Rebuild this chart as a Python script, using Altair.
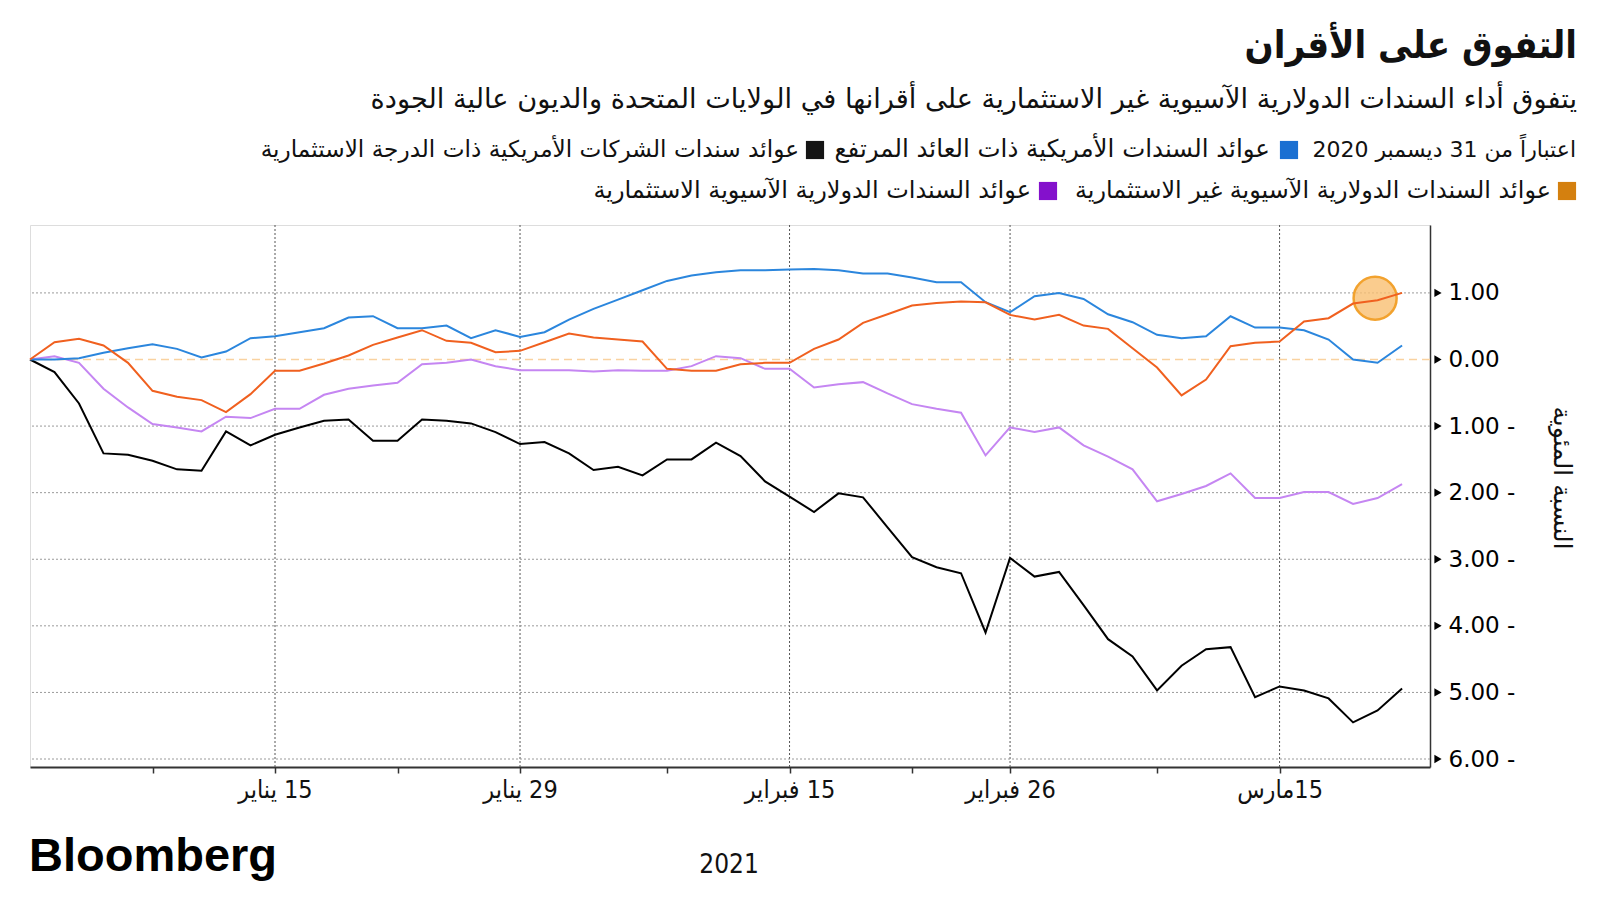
import altair as alt
import pandas as pd

# ---------------- data ----------------
# trading days from 31 Dec 2020 to 22 Mar 2021 (1 Jan holiday excluded)
trade_days = [d for d in pd.bdate_range("2020-12-31", "2021-03-22") if d != pd.Timestamp("2021-01-01")]

us_hy = [0.00, 0.00, 0.02, 0.10, 0.17, 0.23, 0.16, 0.03, 0.12, 0.32,
         0.35, 0.41, 0.47, 0.63, 0.65, 0.47, 0.47, 0.51, 0.32, 0.44,
         0.34, 0.41, 0.60, 0.76, 0.90, 1.04, 1.18, 1.26, 1.31, 1.34,
         1.34, 1.35, 1.36, 1.34, 1.29, 1.29, 1.23, 1.16, 1.16, 0.86,
         0.71, 0.95, 1.00, 0.91, 0.68, 0.56, 0.37, 0.32, 0.35, 0.65,
         0.48, 0.48, 0.44, 0.30, 0.00, -0.05, 0.21]
us_ig = [0.00, -0.19, -0.66, -1.41, -1.43, -1.52, -1.65, -1.67, -1.08, -1.29,
         -1.13, -1.02, -0.92, -0.90, -1.22, -1.22, -0.90, -0.92, -0.96, -1.09,
         -1.27, -1.24, -1.41, -1.66, -1.61, -1.74, -1.50, -1.50, -1.25, -1.45,
         -1.83, -2.06, -2.29, -2.01, -2.07, -2.52, -2.97, -3.12, -3.21, -4.10,
         -2.98, -3.26, -3.19, -3.69, -4.20, -4.46, -4.97, -4.60, -4.35, -4.32,
         -5.07, -4.91, -4.97, -5.09, -5.45, -5.27, -4.94]
asia_hy = [0.00, 0.26, 0.31, 0.21, -0.05, -0.47, -0.56, -0.61, -0.79, -0.52,
           -0.17, -0.17, -0.06, 0.06, 0.22, 0.33, 0.44, 0.28, 0.25, 0.11,
           0.13, 0.26, 0.39, 0.33, 0.30, 0.27, -0.14, -0.17, -0.17, -0.07,
           -0.05, -0.05, 0.16, 0.30, 0.55, 0.68, 0.81, 0.85, 0.87, 0.86,
           0.67, 0.60, 0.67, 0.51, 0.46, 0.17, -0.12, -0.54, -0.30, 0.20,
           0.25, 0.27, 0.57, 0.62, 0.84, 0.89, 1.00]
asia_ig = [0.00, 0.05, -0.05, -0.44, -0.72, -0.97, -1.02, -1.08, -0.86, -0.88,
           -0.74, -0.74, -0.53, -0.44, -0.39, -0.35, -0.07, -0.05, 0.00, -0.10,
           -0.16, -0.16, -0.16, -0.18, -0.16, -0.17, -0.17, -0.10, 0.05, 0.02,
           -0.14, -0.14, -0.42, -0.37, -0.34, -0.51, -0.67, -0.74, -0.80, -1.44,
           -1.02, -1.09, -1.02, -1.29, -1.46, -1.65, -2.13, -2.02, -1.90, -1.71,
           -2.08, -2.08, -1.99, -1.99, -2.17, -2.08, -1.87]

series_names = ["asia_ig", "us_ig", "us_hy", "asia_hy"]
line_colors = ["#c586f2", "#000000", "#2b86dd", "#f0601f"]

tick_dates = ["2021-01-08", "2021-01-15", "2021-01-22", "2021-01-29", "2021-02-08",
              "2021-02-15", "2021-02-22", "2021-02-26", "2021-03-08", "2021-03-15"]
label_dates = {"2021-01-15": "15  يناير", "2021-01-29": "29  يناير",
               "2021-02-15": "15  فبراير", "2021-02-26": "26  فبراير",
               "2021-03-15": "15مارس"}
y_ticks = [1, 0, -1, -2, -3, -4, -5, -6]
y_grid = [1, -1, -2, -3, -4, -5, -6]

highlight_date = "2021-03-19"
highlight_value = 0.92

title_text = "التفوق على الأقران"
subtitle_text = "يتفوق أداء السندات الدولارية الآسيوية غير الاستثمارية على أقرانها في الولايات المتحدة والديون عالية الجودة"
legend_note = "اعتباراً من 31 ديسمبر 2020"
legend_labels = {
    "us_hy": "عوائد السندات الأمريكية ذات العائد المرتفع",
    "us_ig": "عوائد سندات الشركات الأمريكية ذات الدرجة الاستثمارية",
    "asia_hy": "عوائد السندات الدولارية الآسيوية غير الاستثمارية",
    "asia_ig": "عوائد السندات الدولارية الآسيوية الاستثمارية",
}
legend_colors = {"us_hy": "#1a6fd2", "us_ig": "#151515", "asia_hy": "#d4800f", "asia_ig": "#8411cc"}
y_title = "النسبة المئوية"
year_text = "2021"
brand_text = "Bloomberg"

# ---------------- tables ----------------
day_key = [d.strftime("%Y-%m-%d") for d in trade_days]
pos = {k: i for i, k in enumerate(day_key)}
values = {"us_hy": us_hy, "us_ig": us_ig, "asia_hy": asia_hy, "asia_ig": asia_ig}
rows = []
for s in series_names:
    for i, v in enumerate(values[s]):
        rows.append({"idx": i, "value": v, "series": s})
df = pd.DataFrame(rows)

tick_idx = [pos[d] for d in tick_dates]
label_map = {pos[d]: "\u200f" + t for d, t in label_dates.items()}
grid_idx = sorted(label_map.keys())
label_expr = " : ".join([f"datum.value == {k} ? '{v}'" for k, v in label_map.items()]) + " : ''"

W, H = 1400, 542
XMAX = 57.14
x_scale = alt.Scale(domain=[0, XMAX], nice=False, zero=False)
y_scale = alt.Scale(domain=[-6.12, 2.02], nice=False, zero=False)
AR = "DejaVu Sans"
ARC = "DejaVu Sans Condensed"

one = pd.DataFrame({"k": [0]})

vgrid = alt.Chart(pd.DataFrame({"idx": grid_idx})).mark_rule(
    color="#555555", strokeDash=[2, 2], strokeWidth=1).encode(x=alt.X("idx:Q", scale=x_scale))
hgrid = alt.Chart(pd.DataFrame({"v": y_grid})).mark_rule(
    color="#9a9a9a", strokeDash=[2, 2], strokeWidth=1).encode(y=alt.Y("v:Q", scale=y_scale))
zero = alt.Chart(pd.DataFrame({"v": [0]})).mark_rule(
    color="#f9d2a0", strokeDash=[8, 5], strokeWidth=1.5).encode(y=alt.Y("v:Q", scale=y_scale))

circle = alt.Chart(pd.DataFrame({"idx": [pos[highlight_date] - 0.1], "value": [highlight_value]})).mark_point(
    filled=True, size=1850, fill="#f9bf72", fillOpacity=0.8, stroke="#f2a22e", strokeWidth=2.5,
    strokeOpacity=1).encode(x=alt.X("idx:Q", scale=x_scale), y=alt.Y("value:Q", scale=y_scale))

lines = alt.Chart(df).mark_line(strokeWidth=2).encode(
    x=alt.X("idx:Q", scale=x_scale, title=None,
            axis=alt.Axis(values=tick_idx, labelExpr=label_expr, grid=False, tickSize=6,
                          tickColor="#333333", tickWidth=1.5, domainColor="#333333", domainWidth=2,
                          labelFont=ARC, labelFontSize=25, labelColor="#111111", labelPadding=4,
                          labelAlign="center", labelBaseline="top")),
    y=alt.Y("value:Q", scale=y_scale, title=None,
            axis=alt.Axis(orient="right", values=y_ticks, grid=False, ticks=False,
                          labelExpr="datum.value < 0 ? format(-datum.value, '.2f') + ' -' : format(datum.value, '.2f')",
                          labelFont="DejaVu Sans", labelFontSize=23, labelColor="#000000",
                          labelPadding=18, labelAlign="left", labelBaseline="middle",
                          domainColor="#333333", domainWidth=1.5)),
    color=alt.Color("series:N", scale=alt.Scale(domain=series_names, range=line_colors), legend=None),
)

tri = alt.Chart(pd.DataFrame({"v": y_ticks})).mark_point(
    shape="triangle-right", filled=True, size=70, color="#000000", opacity=1).encode(
    y=alt.Y("v:Q", scale=y_scale), x=alt.value(W + 8))


def txt(text, x, y, size, align="right", bold=False, font=AR, baseline="middle", angle=0, color="#111111"):
    kw = dict(text=text, fontSize=size, align=align, baseline=baseline, font=font, color=color)
    if bold:
        kw["fontWeight"] = "bold"
    if angle:
        kw["angle"] = angle
    return alt.Chart(one).mark_text(**kw).encode(x=alt.value(x), y=alt.value(y))


def sq(color, x, y):
    return alt.Chart(one).mark_point(shape="square", filled=True, size=330, color=color, opacity=1).encode(
        x=alt.value(x), y=alt.value(y))


deco = [
    txt(title_text, 1547, -178, 38, bold=True, font=ARC),
    txt(subtitle_text, 1547, -125, 27.2),
    txt("\u200f" + legend_note, 1546, -75, 22),
    sq(legend_colors["us_hy"], 1259, -75),
    txt(legend_labels["us_hy"], 1240, -75, 24.5),
    sq(legend_colors["us_ig"], 785, -75),
    txt(legend_labels["us_ig"], 769, -75, 23.2),
    sq(legend_colors["asia_hy"], 1537, -34),
    txt(legend_labels["asia_hy"], 1521, -34, 23.9),
    sq(legend_colors["asia_ig"], 1018, -34),
    txt(legend_labels["asia_ig"], 1001, -34, 24),
    txt(y_title, 1532, 253, 25, align="center", angle=90),
    txt(brand_text, -1, 646, 47, align="left", bold=True, font="Liberation Sans", baseline="alphabetic",
        color="#000000"),
    txt(year_text, 699, 648, 26, align="center", baseline="alphabetic", font=ARC),
]

chart = alt.layer(vgrid, hgrid, zero, circle, lines, tri, *deco).properties(
    width=W, height=H,
    padding={"left": 22, "top": 217, "right": 162, "bottom": 118},
    autosize=alt.AutoSizeParams(type="none"),
).configure_view(stroke="#666666", strokeWidth=1.5).configure(background="white")

chart.save("out.html", embed_options={"renderer": "svg", "actions": False})
